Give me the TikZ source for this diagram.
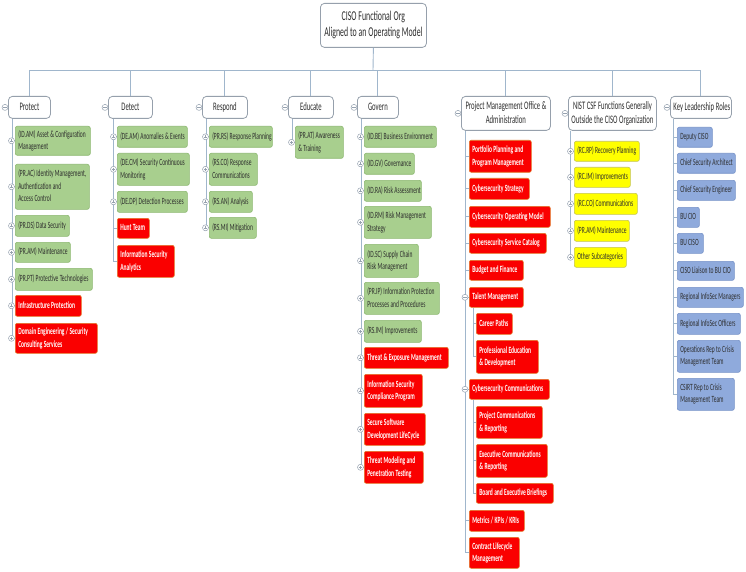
\documentclass[tikz,border=0pt]{standalone}
\usepackage{fontspec}
\setmainfont{Carlito}[FakeStretch=0.58]
\definecolor{lnC}{RGB}{160,182,204}
\definecolor{kC}{RGB}{150,162,176}
\definecolor{tLine}{RGB}{150,160,172}
\definecolor{txtC}{RGB}{45,45,45}
\definecolor{gFill}{RGB}{168,207,142}
\definecolor{gLine}{RGB}{140,184,112}
\definecolor{rFill}{RGB}{250,0,0}
\definecolor{rLine}{RGB}{226,120,40}
\definecolor{yFill}{RGB}{255,255,0}
\definecolor{yLine}{RGB}{196,196,80}
\definecolor{bFill}{RGB}{143,170,220}
\definecolor{bLine}{RGB}{118,146,200}
\newcommand\fchild{\fontsize{9.5}{12.5}\selectfont}
\newcommand\fblue{\fontsize{9.5}{11.5}\selectfont}
\newcommand\ftop{\fontsize{11.5}{14}\selectfont}
\newcommand\froot{\fontsize{13.5}{16}\selectfont}
% narrow word spaces to suit the condensed face
\newcommand\tightsp{\spaceskip=0.14em\relax\xspaceskip=0.14em\relax}
% box: style, name, left, top, width, height, lines of text
\newcommand\mkbox[7]{\pgfmathsetmacro\mkboxtw{#5-6}%
  \node[#1, text width=\mkboxtw pt, minimum height=#6pt] (#2) at (#3,#4)
    {\tightsp\begin{tabular}{@{}l@{}}#7\end{tabular}};}
\newcommand\mktbox[7]{\pgfmathsetmacro\mkboxtw{#5-6}%
  \node[#1, text width=\mkboxtw pt, minimum height=#6pt] (#2) at (#3,#4)
    {\tightsp\begin{tabular}{@{}c@{}}#7\end{tabular}};}
\tikzset{
  conn/.style={draw=lnC, line width=0.9pt},
  cbox/.style={anchor=north west, rounded corners=2pt, inner xsep=3pt, inner ysep=0.5pt,
    align=left, font=\fchild, line width=0.6pt},
  gbox/.style={cbox, fill=gFill, draw=gLine, text=txtC},
  rbox/.style={cbox, fill=rFill, draw=rLine, text=white, font=\fchild\bfseries},
  ybox/.style={cbox, fill=yFill, draw=yLine, text=txtC},
  bbox/.style={cbox, fill=bFill, draw=bLine, text=txtC, font=\fblue},
  tbox/.style={anchor=north west, rounded corners=4pt, fill=white, draw=tLine, line width=0.8pt,
    inner xsep=3pt, inner ysep=0.5pt, align=center, font=\ftop, text=txtC},
  rootbox/.style={tbox, font=\froot},
  knob/.style={circle, draw=kC, fill=white, inner sep=0pt, minimum size=6pt, line width=0.5pt},
  plusk/.style={knob, path picture={\draw[kC, line width=0.45pt]
      ([xshift=1.4pt]path picture bounding box.west) -- ([xshift=-1.4pt]path picture bounding box.east)
      ([yshift=-1.4pt]path picture bounding box.north) -- ([yshift=1.4pt]path picture bounding box.south);}},
  minusk/.style={knob, path picture={\draw[kC, line width=0.45pt]
      ([xshift=1.4pt]path picture bounding box.west) -- ([xshift=-1.4pt]path picture bounding box.east);}},
}
\begin{document}
\begin{tikzpicture}[x=1pt,y=-1pt]
\fill[white] (0,0) rectangle (746,572);
\useasboundingbox (0,0) rectangle (746,572);

% root and first level
\mktbox{rootbox}{root}{320}{3}{106}{44}{CISO Functional Org\\Aligned to an Operating Model}
\coordinate (bus) at (373,70);
\mktbox{tbox}{T1}{8}{96}{42}{22}{Protect}
\mktbox{tbox}{T2}{108}{96}{44}{22}{Detect}
\mktbox{tbox}{T3}{202}{96}{45}{22}{Respond}
\mktbox{tbox}{T4}{288}{96}{45}{22}{Educate}
\mktbox{tbox}{T5}{357}{96}{41}{22}{Govern}
\mktbox{tbox}{T6}{461}{96}{89}{34}{Project Management Office \&\\Administration}
\mktbox{tbox}{T7}{568}{96}{88}{34}{NIST CSF Functions Generally\\Outside the CISO Organization}
\mktbox{tbox}{T8}{670}{96}{61}{22}{Key Leadership Roles}

% Protect
\mkbox{gbox}{p1}{15}{126}{75}{29}{(ID.AM) Asset \& Configuration\\Management}
\mkbox{gbox}{p2}{15}{164}{74}{45}{(PR.AC) Identity Management,\\Authentication and\\Access Control}
\mkbox{gbox}{p3}{15}{215}{54}{21}{(PR.DS) Data Security}
\mkbox{gbox}{p4}{15}{242}{55}{20}{(PR.AM) Maintenance}
\mkbox{gbox}{p5}{15}{268}{77}{22}{(PR.PT) Protective Technologies}
\mkbox{rbox}{p6}{15}{295}{66}{21}{Infrastructure Protection}
\mkbox{rbox}{p7}{15}{323}{82}{30}{Domain Engineering / Security\\Consulting Services}

% Detect
\mkbox{gbox}{d1}{117}{126}{70}{21}{(DE.AM) Anomalies \& Events}
\mkbox{gbox}{d2}{117}{153}{72}{32}{(DE.CM) Security Continuous\\Monitoring}
\mkbox{gbox}{d3}{117}{191}{70}{21}{(DE.DP) Detection Processes}
\mkbox{rbox}{d4}{117}{218}{32}{20}{Hunt Team}
\mkbox{rbox}{d5}{117}{245}{57}{32}{Information Security\\Analytics}

% Respond
\mkbox{gbox}{r1}{209}{126}{63}{21}{(PR.RS) Response Planning}
\mkbox{gbox}{r2}{209}{153}{48}{32}{(RS.CO) Response\\Communications}
\mkbox{gbox}{r3}{209}{191}{43}{21}{(RS.AN) Analysis}
\mkbox{gbox}{r4}{209}{217}{47}{21}{(RS.MI) Mitigation}

% Educate
\mkbox{gbox}{e1}{295}{126}{48}{32}{(PR.AT) Awareness\\\& Training}

% Govern
\mkbox{gbox}{g1}{364}{126}{72}{21}{(ID.BE) Business Environment}
\mkbox{gbox}{g2}{364}{153}{50}{21}{(ID.GV) Governance}
\mkbox{gbox}{g3}{364}{180}{57}{21}{(ID.RA) Risk Assessment}
\mkbox{gbox}{g4}{364}{206}{67}{32}{(ID.RM) Risk Management\\Strategy}
\mkbox{gbox}{g5}{364}{244}{54}{33}{(ID.SC) Supply Chain\\Risk Management}
\mkbox{gbox}{g6}{364}{282}{75}{32}{(PR.IP) Information Protection\\Processes and Procedures}
\mkbox{gbox}{g7}{364}{320}{57}{22}{(RS.IM) Improvements}
\mkbox{rbox}{g8}{364}{347}{84}{21}{Threat \& Exposure Management}
\mkbox{rbox}{g9}{364}{374}{58}{33}{Information Security\\Compliance Program}
\mkbox{rbox}{g10}{364}{413}{61}{32}{Secure Software\\Development LifeCycle}
\mkbox{rbox}{g11}{364}{451}{59}{32}{Threat Modeling and\\Penetration Testing}

% Project Management Office
\mkbox{rbox}{m1}{469}{140}{62}{32}{Portfolio Planning and\\Program Management}
\mkbox{rbox}{m2}{469}{178}{60}{21}{Cybersecurity Strategy}
\mkbox{rbox}{m3}{469}{206}{81}{21}{Cybersecurity Operating Model}
\mkbox{rbox}{m4}{469}{233}{77}{20}{Cybersecurity Service Catalog}
\mkbox{rbox}{m5}{469}{260}{54}{20}{Budget and Finance}
\mkbox{rbox}{m6}{469}{287}{54}{20}{Talent Management}
\mkbox{rbox}{m6a}{476}{313}{36}{21}{Career Paths}
\mkbox{rbox}{m6b}{476}{340}{62}{33}{Professional Education\\\& Development}
\mkbox{rbox}{m7}{469}{379}{80}{20}{Cybersecurity Communications}
\mkbox{rbox}{m7a}{476}{406}{66}{32}{Project Communications\\\& Reporting}
\mkbox{rbox}{m7b}{476}{444}{71}{33}{Executive Communications\\\& Reporting}
\mkbox{rbox}{m7c}{476}{483}{77}{20}{Board and Executive Briefings}
\mkbox{rbox}{m8}{469}{510}{55}{21}{Metrics / KPIs / KRIs}
\mkbox{rbox}{m9}{469}{537}{50}{31}{Contract Lifecycle\\Management}

% NIST CSF functions outside the organization
\mkbox{ybox}{n1}{574}{141}{65}{20}{(RC.RP) Recovery Planning}
\mkbox{ybox}{n2}{574}{167}{56}{20}{(RC.IM) Improvements}
\mkbox{ybox}{n3}{574}{193}{63}{21}{(RC.CO) Communications}
\mkbox{ybox}{n4}{574}{220}{55}{21}{(PR.AM) Maintenance}
\mkbox{ybox}{n5}{574}{247}{52}{20}{Other Subcategories}

% Key leadership roles
\mkbox{bbox}{k1}{677}{127}{35}{20}{Deputy CISO}
\mkbox{bbox}{k2}{677}{153}{58}{20}{Chief Security Architect}
\mkbox{bbox}{k3}{677}{180}{58}{20}{Chief Security Engineer}
\mkbox{bbox}{k4}{677}{207}{22}{20}{BU CIO}
\mkbox{bbox}{k5}{677}{233}{26}{20}{BU CISO}
\mkbox{bbox}{k6}{677}{261}{57}{19}{CISO Liaison to BU CIO}
\mkbox{bbox}{k7}{677}{287}{66}{20}{Regional InfoSec Managers}
\mkbox{bbox}{k8}{677}{313}{63}{21}{Regional InfoSec Officers}
\mkbox{bbox}{k9}{677}{340}{63}{32}{Operations Rep to Crisis\\Management Team}
\mkbox{bbox}{k10}{677}{378}{57}{32}{CSIRT Rep to Crisis\\Management Team}

% connectors
\draw[conn] (root.south) -- (bus);
\foreach \t in {T1,T2,T3,T4,T5,T6,T7,T8} \draw[conn] (\t.north) |- (bus);
\foreach \c in {p1,p2,p3,p4,p5,p6,p7} \draw[conn] ([xshift=4pt]T1.south west) |- (\c.west);
\foreach \c in {d1,d2,d3,d4,d5} \draw[conn] ([xshift=5pt]T2.south west) |- (\c.west);
\foreach \c in {r1,r2,r3,r4} \draw[conn] ([xshift=4pt]T3.south west) |- (\c.west);
\draw[conn] ([xshift=4pt]T4.south west) |- (e1.west);
\foreach \c in {g1,g2,g3,g4,g5,g6,g7,g8,g9,g10,g11} \draw[conn] ([xshift=4pt]T5.south west) |- (\c.west);
\foreach \c in {m1,m2,m3,m4,m5,m6,m7,m8,m9} \draw[conn] ([xshift=4pt]T6.south west) |- (\c.west);
\foreach \c in {m6a,m6b} \draw[conn] ([xshift=4pt]m6.south west) |- (\c.west);
\foreach \c in {m7a,m7b,m7c} \draw[conn] ([xshift=4pt]m7.south west) |- (\c.west);
\foreach \c in {n1,n2,n3,n4,n5} \draw[conn] ([xshift=2pt]T7.south west) |- (\c.west);
\foreach \c in {k1,k2,k3,k4,k5,k6,k7,k8,k9,k10} \draw[conn] ([xshift=3pt]T8.south west) |- (\c.west);

% expand / collapse knobs
\foreach \t in {T1,T2,T3,T4,T5,T6,T7,T8} \node[minusk] (\t k) at ([xshift=-3pt]\t.west) {};
\foreach \c in {p1,p2,p3,p4,p5,p6,p7,d1,d2,d3,r1,r2,r3,r4,e1,g1,g2,g3,g4,g5,g6,g7,g8,g9,g10,g11,n1,n2,n3,n4,n5}
  \node[plusk] (\c k) at ([xshift=-3.5pt]\c.west) {};
\foreach \c in {m6,m7} \node[minusk] (\c k) at ([xshift=-4pt]\c.west) {};
\end{tikzpicture}
\end{document}
